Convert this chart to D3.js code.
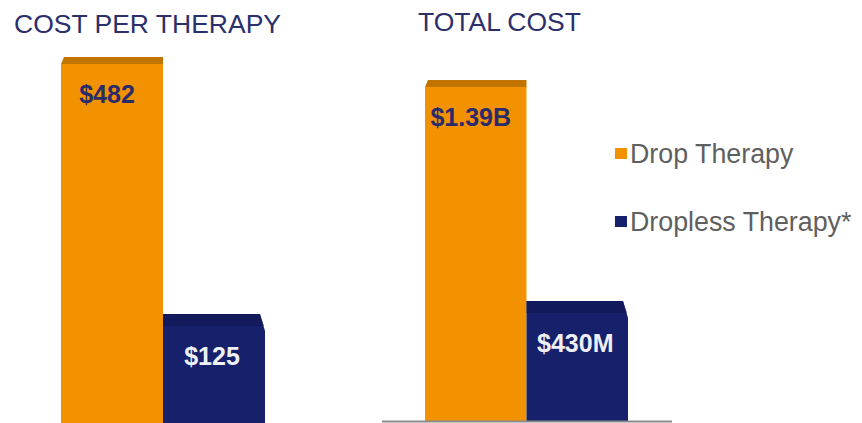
<!DOCTYPE html>
<html>
<head>
<meta charset="utf-8">
<script src="https://cdn.jsdelivr.net/npm/d3@7"></script>
<style>
  html, body { margin: 0; padding: 0; background: #fff; }
  svg { display: block; font-family: "Liberation Sans", Arial, sans-serif; }
</style>
</head>
<body>
<div id="chart"></div>
<script>
// chart data
var series = ["Drop Therapy", "Dropless Therapy*"];
var costPerTherapy = [482, 125];
var costPerTherapyLabels = ["$482", "$125"];
var totalCost = [1390, 430]; // millions
var totalCostLabels = ["$1.39B", "$430M"];
var titles = ["COST PER THERAPY", "TOTAL COST"];

var W = 862, H = 423;
var frontColors = ["#f39200", "#17206b"];
var topColors = ["#c27400", "#0f1550"];
var labelColors = ["#2b2a6b", "#eef0f6"];

var svg = d3.select("#chart").append("svg")
    .attr("width", W)
    .attr("height", H);

// draw one pseudo-3D bar panel
function drawPanel(cfg) {
    var x = d3.scaleBand().domain(series).range(cfg.xRange).padding(0);
    var y = d3.scaleLinear().domain([0, d3.max(cfg.values)]).range([cfg.floor, cfg.top]);
    var g = svg.append("g");

    g.append("text")
        .attr("x", cfg.titleX)
        .attr("y", cfg.titleY)
        .attr("font-size", 26.5)
        .attr("fill", "#2b2f6b")
        .text(cfg.title);

    cfg.values.forEach(function (v, i) {
        var x0 = x(series[i]), x1 = x0 + x.bandwidth();
        var yt = y(v);
        var yb = cfg.bottom;
        if (i === 0) {
            // orange: slanted top face
            g.append("rect")
                .attr("x", x0).attr("y", yt + 7)
                .attr("width", x1 - x0).attr("height", yb - yt - 7)
                .attr("fill", frontColors[i]);
            g.append("path")
                .attr("d", "M" + x0 + "," + (yt + 7) + "L" + (x0 + 3) + "," + yt +
                    "L" + x1 + "," + yt + "L" + x1 + "," + (yt + 7) + "Z")
                .attr("fill", topColors[i]);
        } else {
            // navy: bevelled right corner
            g.append("path")
                .attr("d", "M" + x0 + "," + yt + "L" + (x1 - 5) + "," + yt +
                    "L" + x1 + "," + (yt + 17) + "L" + x1 + "," + yb + "L" + x0 + "," + yb + "Z")
                .attr("fill", frontColors[i]);
            g.append("path")
                .attr("d", "M" + x0 + "," + yt + "L" + (x1 - 5) + "," + yt +
                    "L" + (x1 - 1) + "," + (yt + 12) + "L" + x0 + "," + (yt + 12) + "Z")
                .attr("fill", topColors[i])
                .attr("opacity", 0.55);
        }
        g.append("text")
            .attr("x", (x0 + x1) / 2 + (i === 0 ? -5 : -2))
            .attr("y", yt + (i === 0 ? 46 : 51))
            .attr("text-anchor", "middle")
            .attr("font-size", 25)
            .attr("font-weight", "bold")
            .attr("fill", labelColors[i])
            .text(cfg.labels[i]);
    });

    if (cfg.baseline) {
        g.append("line")
            .attr("x1", cfg.baseline[0]).attr("x2", cfg.baseline[1])
            .attr("y1", 421.5).attr("y2", 421.5)
            .attr("stroke", "#8a8a8a")
            .attr("stroke-width", 2);
    }
}

drawPanel({
    title: titles[0], titleX: 14, titleY: 33,
    values: costPerTherapy, labels: costPerTherapyLabels,
    xRange: [61, 265], floor: 404, top: 57, bottom: 423
});

drawPanel({
    title: titles[1], titleX: 418, titleY: 31,
    values: totalCost, labels: totalCostLabels,
    xRange: [425, 628], floor: 400, top: 80, bottom: 421,
    baseline: [382, 672]
});

// legend
var legend = svg.append("g").selectAll("g")
    .data(series)
    .join("g")
    .attr("transform", function (d, i) { return "translate(615," + (148 + i * 68) + ")"; });
legend.append("rect")
    .attr("width", 12).attr("height", 11)
    .attr("fill", function (d, i) { return frontColors[i]; });
legend.append("text")
    .attr("x", 15).attr("y", 15)
    .attr("font-size", 26.8)
    .attr("fill", "#5f5f5f")
    .text(function (d) { return d; });
</script>
</body>
</html>
